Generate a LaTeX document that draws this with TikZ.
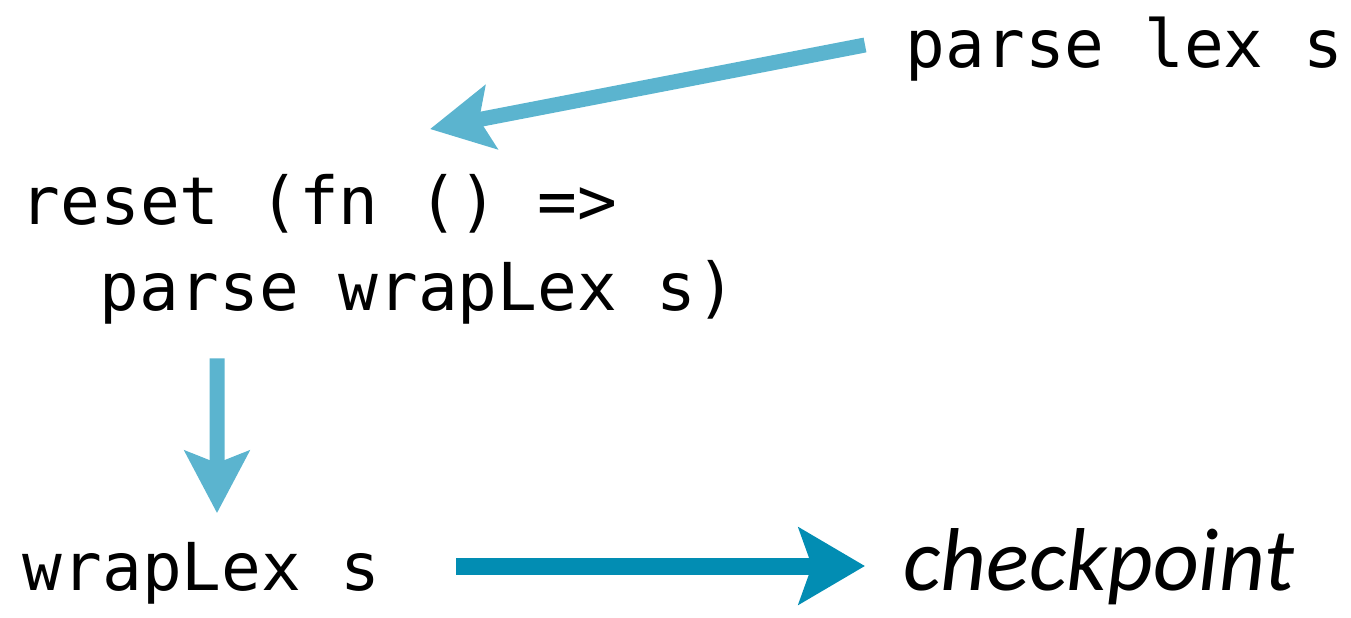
\documentclass[tikz,border=0pt]{standalone}
\usepackage{fontspec}
\usepackage{tikz}
\usetikzlibrary{arrows.meta}
\newfontfamily\codefont{DejaVu Sans Mono}
\newfontfamily\notefont{Carlito}

\definecolor{flowblue}{HTML}{5BB4CF}
\definecolor{flowteal}{HTML}{028DB3}

\tikzset{
  code/.style = {inner sep=0pt, font=\codefont\fontsize{18.8pt}{24.2pt}\selectfont},
  note/.style = {inner sep=0pt, font=\notefont\itshape\fontsize{25.4pt}{28pt}\selectfont},
  flow/.style = {line width=0.15cm, color=flowblue,
                 -{Stealth[length=0.62cm, width=0.64cm, inset=0.12cm]}},
  flowdark/.style = {flow, line width=0.17cm, color=flowteal,
                 -{Stealth[length=0.66cm, width=0.76cm, inset=0.13cm]}}
}

\begin{document}
\begin{tikzpicture}
    \useasboundingbox (0,0) rectangle (13.51,6.17);

    % the calls
    \node[code, anchor=base west] (lexcall) at (9.05,5.50) {parse lex s};
    \node[code, anchor=base west, align=left] (resetcall) at (0.20,3.07)
        {reset (fn () =>\\\hspace*{1.2em}parse wrapLex s)};
    \node[code, anchor=base west] (wrapcall) at (0.22,0.27) {wrapLex s};
    \node[note, anchor=base west] (checkpoint) at (9.03,0.27) {checkpoint};

    % connectors
    \draw[flow] ([xshift=-0.40cm, yshift=0.22cm]lexcall.base west)
        -- ([xshift=4.10cm, yshift=0.45cm]resetcall.north west);
    \draw[flow] ([xshift=1.97cm, yshift=-0.34cm]resetcall.south west)
        -- ([xshift=1.95cm, yshift=0.28cm]wrapcall.north west);
    \draw[flowdark] ([xshift=0.75cm, yshift=0.24cm]wrapcall.base east)
        -- ([xshift=-0.38cm, yshift=0.24cm]checkpoint.base west);
\end{tikzpicture}
\end{document}
